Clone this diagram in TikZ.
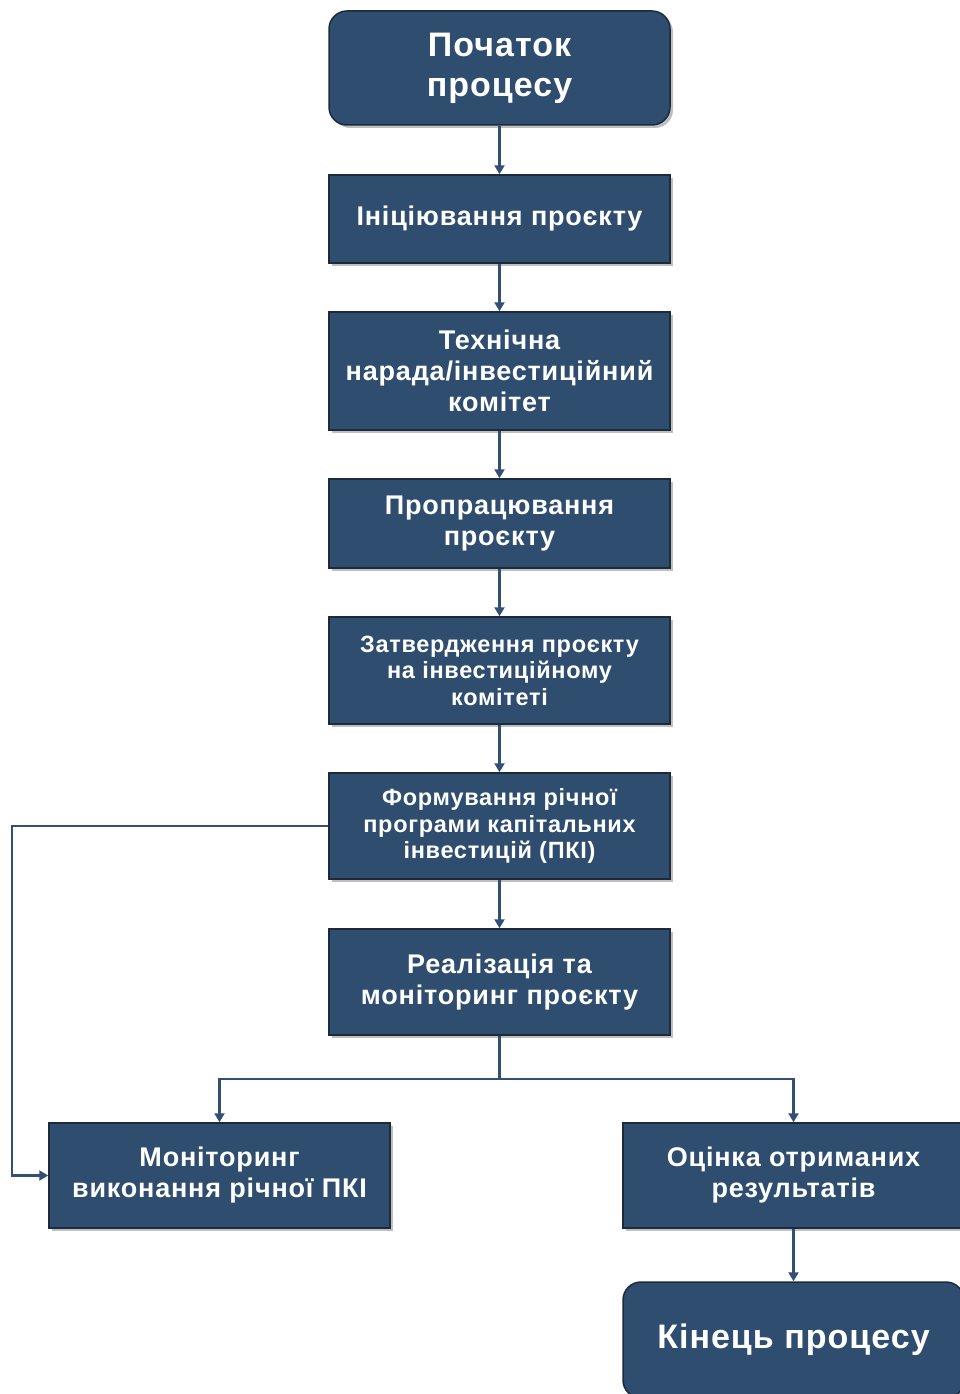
\documentclass[tikz,border=0pt]{standalone}
\usepackage{fontspec}
\setmainfont{Liberation Sans}[LetterSpace=3]
\usetikzlibrary{positioning,arrows.meta,shadows}
\definecolor{boxblue}{RGB}{46,77,111}
\definecolor{boxedge}{RGB}{28,42,58}
\definecolor{lineblue}{RGB}{50,80,116}
\tikzset{
stepbox/.style={draw=boxedge, line width=1.5pt, fill=boxblue, text=white, align=center, minimum width=341pt, inner sep=2pt, drop shadow={shadow xshift=3pt, shadow yshift=-3pt, opacity=0.5}},
endbox/.style={stepbox, rounded corners=18pt},
flow/.style={draw=lineblue, line width=2.2pt, -{Triangle[length=9pt,width=10pt]}}
}
\newcommand{\bigtxt}{\bfseries\fontsize{34}{40}\selectfont}
\newcommand{\midtxt}{\bfseries\fontsize{27}{31}\selectfont}
\newcommand{\smalltxt}{\bfseries\fontsize{23.5}{26.5}\selectfont}

\begin{document}
\begin{tikzpicture}[x=1pt, y=1pt]
  \useasboundingbox (0,0) rectangle (960,-1394);
  % main column
  \node[endbox, minimum height=114pt, font=\bigtxt] (start) at (499.5,-68) {Початок\\процесу};
  \node[stepbox, minimum height=88pt, font=\midtxt] (init) at (499.5,-219) {Ініціювання проєкту};
  \node[stepbox, minimum height=118pt, font=\midtxt] (meet) at (499.5,-371) {Технічна\\нарада/інвестиційний\\комітет};
  \node[stepbox, minimum height=89pt, font=\midtxt] (work) at (499.5,-523.5) {Пропрацювання\\проєкту};
  \node[stepbox, minimum height=107pt, font=\smalltxt] (appr) at (499.5,-670.5) {Затвердження проєкту\\на інвестиційному\\комітеті};
  \node[stepbox, minimum height=106pt, font=\smalltxt] (form) at (499.5,-826) {Формування річної\\програми капітальних\\інвестицій (ПКІ)};
  \node[stepbox, minimum height=106pt, font=\midtxt] (impl) at (499.5,-982) {Реалізація та\\моніторинг проєкту};
  % bottom row
  \node[stepbox, minimum height=105pt, font=\midtxt] (mon) at (219.5,-1175.5) {Моніторинг\\виконання річної ПКІ};
  \node[stepbox, minimum height=105pt, font=\midtxt] (eval) at (793.5,-1175.5) {Оцінка отриманих\\результатів};
  \node[endbox, minimum height=116pt, font=\bigtxt] (finish) at (793.5,-1340) {Кінець процесу};

  \coordinate (fork) at (499.5,-1079);
  \coordinate (back) at (12,-826);

  \draw[flow] (start) -- (init);
  \draw[flow] (init) -- (meet);
  \draw[flow] (meet) -- (work);
  \draw[flow] (work) -- (appr);
  \draw[flow] (appr) -- (form);
  \draw[flow] (form) -- (impl);
  \draw[flow] (impl.south) -- (fork) -| (mon.north);
  \draw[flow] (fork) -| (eval.north);
  \draw[flow] (form.west) -- (back) |- (mon.west);
  \draw[flow] (eval) -- (finish);
\end{tikzpicture}
\end{document}
